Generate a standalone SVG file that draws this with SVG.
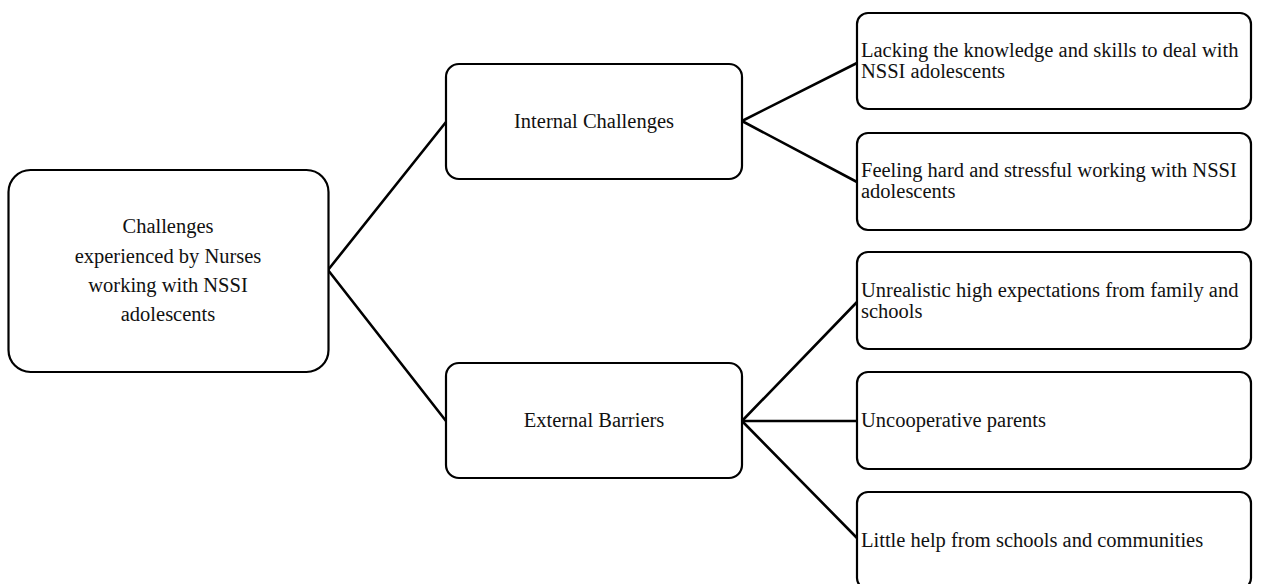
<svg xmlns="http://www.w3.org/2000/svg" width="1269" height="584" viewBox="0 0 1269 584">
<style>
.box{fill:#fff;stroke:#000;stroke-width:2.2}
.t{font-family:"Liberation Serif","Times New Roman",serif;font-size:20.5px;fill:#111}
.c{text-anchor:middle}
.ln{stroke:#000;stroke-width:2.6;fill:none;stroke-linecap:round}
</style>
<rect width="1269" height="584" fill="#fff"/>
<g id="connectors">
<line class="ln" x1="328" y1="270" x2="446" y2="122"/>
<line class="ln" x1="328" y1="270" x2="446" y2="421"/>
<line class="ln" x1="742" y1="121" x2="857" y2="63"/>
<line class="ln" x1="742" y1="121" x2="857" y2="182"/>
<line class="ln" x1="742" y1="421" x2="857" y2="302"/>
<line class="ln" x1="742" y1="421" x2="857" y2="421"/>
<line class="ln" x1="742" y1="421" x2="857" y2="538"/>
</g>
<g id="root">
<rect class="box" x="8.5" y="170" width="320" height="202" rx="22"/>
<text class="t c" x="168" y="233">Challenges</text>
<text class="t c" x="168" y="262.5">experienced by Nurses</text>
<text class="t c" x="168" y="292">working with NSSI</text>
<text class="t c" x="168" y="320.5">adolescents</text>
</g>
<g id="internal">
<rect class="box" x="446" y="64" width="296" height="115" rx="13"/>
<text class="t c" x="594" y="128">Internal Challenges</text>
</g>
<g id="external">
<rect class="box" x="446" y="363" width="296" height="115" rx="13"/>
<text class="t c" x="594" y="427">External Barriers</text>
</g>
<g id="lacking">
<rect class="box" x="857" y="13" width="394" height="96" rx="11"/>
<text class="t" x="861" y="57">Lacking the knowledge and skills to deal with</text>
<text class="t" x="861" y="78">NSSI adolescents</text>
</g>
<g id="feeling">
<rect class="box" x="857" y="133" width="394" height="97" rx="11"/>
<text class="t" x="861" y="177">Feeling hard and stressful working with NSSI</text>
<text class="t" x="861" y="198">adolescents</text>
</g>
<g id="unrealistic">
<rect class="box" x="857" y="252" width="394" height="97" rx="11"/>
<text class="t" x="861" y="297">Unrealistic high expectations from family and</text>
<text class="t" x="861" y="318">schools</text>
</g>
<g id="uncooperative">
<rect class="box" x="857" y="372" width="394" height="97" rx="11"/>
<text class="t" x="861" y="427">Uncooperative parents</text>
</g>
<g id="littlehelp">
<rect class="box" x="857" y="492" width="394" height="97" rx="11"/>
<text class="t" x="861" y="547">Little help from schools and communities</text>
</g>
</svg>
